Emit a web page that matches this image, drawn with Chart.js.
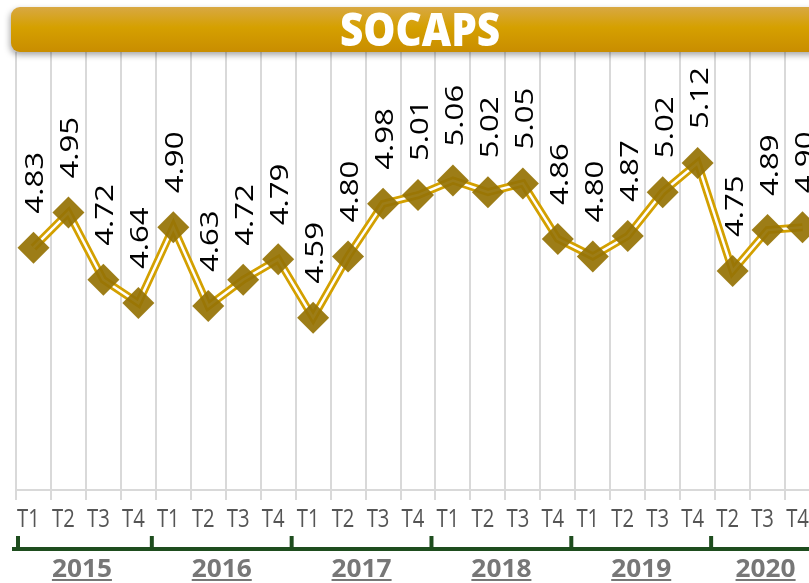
<!DOCTYPE html>
<html>
<head>
<meta charset="utf-8">
<script src="https://cdn.jsdelivr.net/npm/chart.js@4.4.1/dist/chart.umd.min.js"></script>
<style>
    html, body { margin: 0; padding: 0; overflow: hidden; background: #fff; }
    canvas { display: block; }
</style>
</head>
<body>
<canvas id="socaps-chart" width="840" height="583"></canvas>
<script>
// quarters shown on the axis (2020 starts at T2)
const quarters = [
    "T1", "T2", "T3", "T4",
    "T1", "T2", "T3", "T4",
    "T1", "T2", "T3", "T4",
    "T1", "T2", "T3", "T4",
    "T1", "T2", "T3", "T4",
    "T2", "T3", "T4",
];
const years = ["2015", "2016", "2017", "2018", "2019", "2020"];
const quartersPerYear = [4, 4, 4, 4, 4, 3];
const scores = [
    4.83, 4.95, 4.72, 4.64,
    4.90, 4.63, 4.72, 4.79,
    4.59, 4.80, 4.98, 5.01,
    5.06, 5.02, 5.05, 4.86,
    4.80, 4.87, 5.02, 5.12,
    4.75, 4.89, 4.90,
];
const title = "SOCAPS";

const ctx = document.getElementById("socaps-chart").getContext("2d");

// values written vertically above each diamond
const valueLabels = {
    id: "valueLabels",
    afterDatasetsDraw: (chart) => {
        const c = chart.ctx;
        const meta = chart.getDatasetMeta(1);
        c.save();
        c.fillStyle = "#000";
        c.font = '26px "Open Sans"';
        c.textAlign = "left";
        c.textBaseline = "alphabetic";
        meta.data.forEach((pt, i) => {
            c.save();
            c.translate(pt.x + 10, pt.y - 34);
            c.rotate(-Math.PI / 2);
            c.scale(1.2, 1);
            c.fillText(scores[i].toFixed(2), 0, 0);
            c.restore();
        });
        c.restore();
    },
};

// quarter labels, year brackets and the title banner
const decorations = {
    id: "decorations",
    afterDraw: (chart) => {
        const c = chart.ctx;
        const x = chart.scales.x;
        const step = x.getPixelForValue(1) - x.getPixelForValue(0);

        c.save();
        c.fillStyle = "#555";
        c.font = '26px "Open Sans"';
        c.textAlign = "center";
        c.textBaseline = "alphabetic";
        quarters.forEach((q, i) => {
            c.save();
            c.translate(x.getPixelForValue(i) - 5, 527);
            c.scale(0.78, 1);
            c.fillText(q, 0, 0);
            c.restore();
        });

        // brackets
        c.strokeStyle = "#1e4d1e";
        c.lineWidth = 4;
        let start = 0;
        const bounds = [];
        quartersPerYear.forEach((n) => {
            bounds.push(x.getPixelForValue(start) - step / 2 - 4);
            start += n;
        });
        bounds.push(x.getPixelForValue(start - 1) + step / 2);
        c.beginPath();
        c.moveTo(bounds[0], 549);
        c.lineTo(chart.width, 549);
        c.stroke();
        bounds.slice(0, -1).forEach((b, i) => {
            const bx = i === 0 ? x.getPixelForValue(0) - step / 2 + 2 : b;
            c.beginPath();
            c.moveTo(bx, 536);
            c.lineTo(bx, 549);
            c.stroke();
        });

        // year names
        c.fillStyle = "#777";
        c.font = 'bold 25px "Open Sans"';
        years.forEach((y, i) => {
            const cx = (bounds[i] + bounds[i + 1]) / 2;
            c.save();
            c.translate(cx, 577);
            c.scale(1.05, 1);
            c.fillText(y, 0, 0);
            const w = c.measureText(y).width;
            c.fillRect(-w / 2, 2, w, 2);
            c.restore();
        });

        // title banner
        const grad = c.createLinearGradient(0, 7, 0, 52);
        grad.addColorStop(0, "#d8a843");
        grad.addColorStop(0.45, "#d5a000");
        grad.addColorStop(1, "#c98d00");
        c.save();
        c.shadowColor = "rgba(0, 0, 0, 0.35)";
        c.shadowBlur = 6;
        c.shadowOffsetX = -1;
        c.shadowOffsetY = 3;
        c.fillStyle = grad;
        c.beginPath();
        c.roundRect(11, 7, chart.width + 20, 45, 9);
        c.fill();
        c.restore();

        c.fillStyle = "#fff";
        c.font = '800 46px "Open Sans"';
        c.save();
        c.translate(420, 46);
        c.scale(0.88, 1);
        c.fillText(title, 0, 0);
        c.restore();
        c.restore();
    },
};

new Chart(ctx, {
    type: "line",
    data: {
        labels: quarters,
        datasets: [
            {
                data: scores,
                borderColor: "#d3a000",
                borderWidth: 8,
                pointRadius: 0,
                tension: 0,
                order: 2,
            },
            {
                data: scores,
                borderColor: "#ffffff",
                borderWidth: 2.5,
                pointStyle: "rectRot",
                pointRadius: 16,
                pointBackgroundColor: "rgba(150, 115, 5, 0.93)",
                pointBorderWidth: 0,
                tension: 0,
                order: 1,
            },
        ],
    },
    options: {
        responsive: false,
        animation: false,
        layout: {
            padding: { left: 15, right: 20, top: 52, bottom: 83 },
        },
        plugins: {
            legend: { display: false },
            tooltip: { enabled: false },
        },
        scales: {
            x: {
                offset: true,
                grid: {
                    offset: true,
                    color: "#d9d9d9",
                    lineWidth: 2,
                    tickLength: 10,
                },
                border: { color: "#d9d9d9", width: 2 },
                ticks: { display: false },
            },
            y: {
                display: false,
                min: 4.0,
                max: 5.5,
            },
        },
    },
    plugins: [valueLabels, decorations],
});
</script>
</body>
</html>
